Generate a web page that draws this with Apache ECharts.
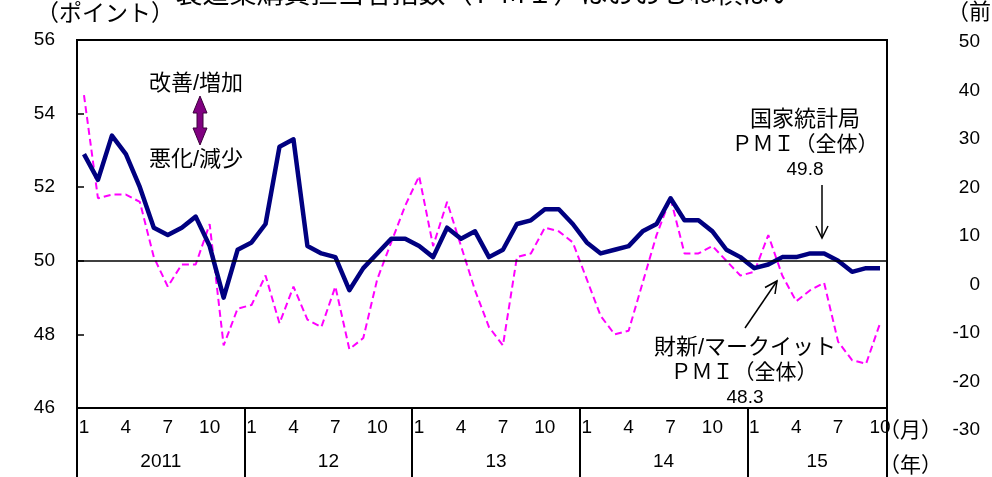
<!DOCTYPE html>
<html><head><meta charset="utf-8">
<script src="https://cdn.jsdelivr.net/npm/echarts@6/dist/echarts.min.js"></script>
<style>html,body{margin:0;padding:0;background:#fff}#c{width:992px;height:477px}</style>
</head><body><div id="c"></div>
<script>
// ---- data ----
const years = ['2011', '12', '13', '14', '15'];
const monthsPerYear = [12, 12, 12, 12, 10];
const categories = [];
years.forEach((y, i) => { for (let m = 1; m <= monthsPerYear[i]; m++) categories.push(y + '/' + m); });
const monthTickLabels = ['1', '4', '7', '10'];
// 国家統計局 PMI（全体）
const nbsPMI = [
  52.9, 52.2, 53.4, 52.9, 52.0, 50.9, 50.7, 50.9, 51.2, 50.4, 49.0, 50.3,
  50.5, 51.0, 53.1, 53.3, 50.4, 50.2, 50.1, 49.2, 49.8, 50.2, 50.6, 50.6,
  50.4, 50.1, 50.9, 50.6, 50.8, 50.1, 50.3, 51.0, 51.1, 51.4, 51.4, 51.0,
  50.5, 50.2, 50.3, 50.4, 50.8, 51.0, 51.7, 51.1, 51.1, 50.8, 50.3, 50.1,
  49.8, 49.9, 50.1, 50.1, 50.2, 50.2, 50.0, 49.7, 49.8, 49.8
];
// 財新/マークイット PMI（全体）
const caixinPMI = [
  54.5, 51.7, 51.8, 51.8, 51.6, 50.1, 49.3, 49.9, 49.9, 51.0, 47.7, 48.7,
  48.8, 49.6, 48.3, 49.3, 48.4, 48.2, 49.3, 47.6, 47.9, 49.5, 50.5, 51.5,
  52.3, 50.4, 51.6, 50.4, 49.2, 48.2, 47.7, 50.1, 50.2, 50.9, 50.8, 50.5,
  49.5, 48.5, 48.0, 48.1, 49.4, 50.7, 51.7, 50.2, 50.2, 50.4, 50.0, 49.6,
  49.7, 50.7, 49.6, 48.9, 49.2, 49.4, 47.8, 47.3, 47.2, 48.3
];
const leftTicks = [46, 48, 50, 52, 54, 56];
const rightTicks = [-30, -20, -10, 0, 10, 20, 30, 40, 50];
const yearLabelPos = { 6: '2011', 18: '12', 30: '13', 42: '14', 53: '15' };

// ---- chart ----
const FONT = "'Liberation Sans', Arial, 'Noto Sans CJK JP', sans-serif";
const chart = echarts.init(document.getElementById('c'), null, { renderer: 'canvas' });
const txt = (text, x, y, align, size) => ({
  type: 'text', silent: true,
  style: { text, x, y, align: align || 'center', verticalAlign: 'middle',
           font: (size || 20) + 'px ' + FONT, fill: '#000' }
});
const line = (pts, w) => ({
  type: 'polyline', silent: true,
  shape: { points: pts }, style: { stroke: '#000', lineWidth: w || 1.5, fill: null }
});

chart.setOption({
  animation: false,
  backgroundColor: '#fff',
  grid: [
    { left: 77, right: 105, top: 40, bottom: 69, show: true, borderColor: '#000', borderWidth: 2, backgroundColor: 'transparent' },
    { left: 77, right: 105, top: 42, bottom: 47, show: false }
  ],
  xAxis: [
    {
      type: 'category', data: categories, gridIndex: 0, boundaryGap: true, position: 'bottom',
      axisLine: { show: true, lineStyle: { color: '#000', width: 2 } },
      axisTick: { show: false },
      axisLabel: {
        interval: 0, margin: 10, fontSize: 19, fontFamily: FONT, color: '#000',
        formatter: v => { const m = v.split('/')[1]; return monthTickLabels.indexOf(m) >= 0 ? m : ''; }
      },
      splitLine: { show: false }
    },
    {
      type: 'value', gridIndex: 0, min: 0, max: categories.length, interval: 12, position: 'bottom',
      axisLine: { show: false },
      axisTick: { show: true, inside: false, length: 69, lineStyle: { color: '#000', width: 2 } },
      axisLabel: { show: false }, splitLine: { show: false }
    },
    {
      type: 'value', gridIndex: 0, min: 0, max: categories.length, interval: 1, position: 'bottom',
      axisLine: { show: false }, axisTick: { show: false }, splitLine: { show: false },
      axisLabel: {
        show: true, margin: 44, fontSize: 19, fontFamily: FONT, color: '#000', showMinLabel: true, showMaxLabel: true,
        formatter: v => yearLabelPos[v] || ''
      }
    },
    { type: 'value', gridIndex: 1, show: false, min: 0, max: 1 }
  ],
  yAxis: [
    {
      type: 'value', gridIndex: 0, min: leftTicks[0], max: leftTicks[leftTicks.length - 1], interval: 2,
      axisLine: { show: true, lineStyle: { color: '#000', width: 2 } },
      axisTick: { show: true, inside: true, length: 7, lineStyle: { color: '#000', width: 1.5 } },
      axisLabel: { margin: 22, fontSize: 19, fontFamily: FONT, color: '#000' },
      splitLine: { show: false }
    },
    {
      type: 'value', gridIndex: 1, position: 'right', min: rightTicks[0], max: rightTicks[rightTicks.length - 1], interval: 10,
      axisLine: { show: false }, axisTick: { show: false }, splitLine: { show: false },
      axisLabel: { margin: 93, align: 'right', fontSize: 19, fontFamily: FONT, color: '#000' }
    }
  ],
  series: [
    {
      name: '財新/マークイットPMI（全体）', type: 'line', xAxisIndex: 0, yAxisIndex: 0,
      data: caixinPMI, showSymbol: false, symbol: 'none', silent: true,
      lineStyle: { color: '#FF00FF', width: 2, type: [7, 4] }
    },
    {
      name: '国家統計局PMI（全体）', type: 'line', xAxisIndex: 0, yAxisIndex: 0,
      data: nbsPMI, showSymbol: false, symbol: 'none', silent: true,
      lineStyle: { color: '#000080', width: 4.5, join: 'round' },
      markLine: {
        silent: true, symbol: 'none', label: { show: false },
        lineStyle: { color: '#000', width: 1.5, type: 'solid' },
        data: [{ yAxis: 50 }]
      },
      z: 3
    }
  ],
  graphic: [
    { type: 'text', silent: true, style: { text: '製造業購買担当者指数（ＰＭＩ）はおおむね横ばい', x: 486, y: 9, align: 'center', verticalAlign: 'bottom', font: '27px ' + FONT, fill: '#000' } },
    txt('（ポイント）', 36, 15, 'left', 23),
    txt('（前年比、％）', 947, 13, 'left', 22),
    txt('改善/増加', 196, 84, 'center', 22),
    txt('悪化/減少', 196, 160, 'center', 22),
    {
      type: 'polygon', silent: true,
      shape: { points: [[200, 96], [207, 113], [203, 113], [203, 128], [207, 128], [200, 145], [193, 128], [197, 128], [197, 113], [193, 113]] },
      style: { fill: '#800080', stroke: '#3a003a', lineWidth: 1 }
    },
    txt('国家統計局', 805, 120, 'center', 22),
    txt('ＰＭＩ（全体）', 805, 145, 'center', 21),
    txt('49.8', 805, 170, 'center', 19),
    line([[822, 185], [822, 237]]),
    line([[816, 226], [822, 238], [828, 226]]),
    line([[745, 328], [777, 281]]),
    line([[765, 287.5], [777, 281], [775, 294]]),
    txt('財新/マークイット', 745, 348, 'center', 22),
    txt('ＰＭＩ（全体）', 744, 373, 'center', 21),
    txt('48.3', 745, 398, 'center', 19),
    txt('（月）', 879, 431, 'left', 21),
    txt('（年）', 879, 466, 'left', 21)
  ]
});
</script>
</body></html>
